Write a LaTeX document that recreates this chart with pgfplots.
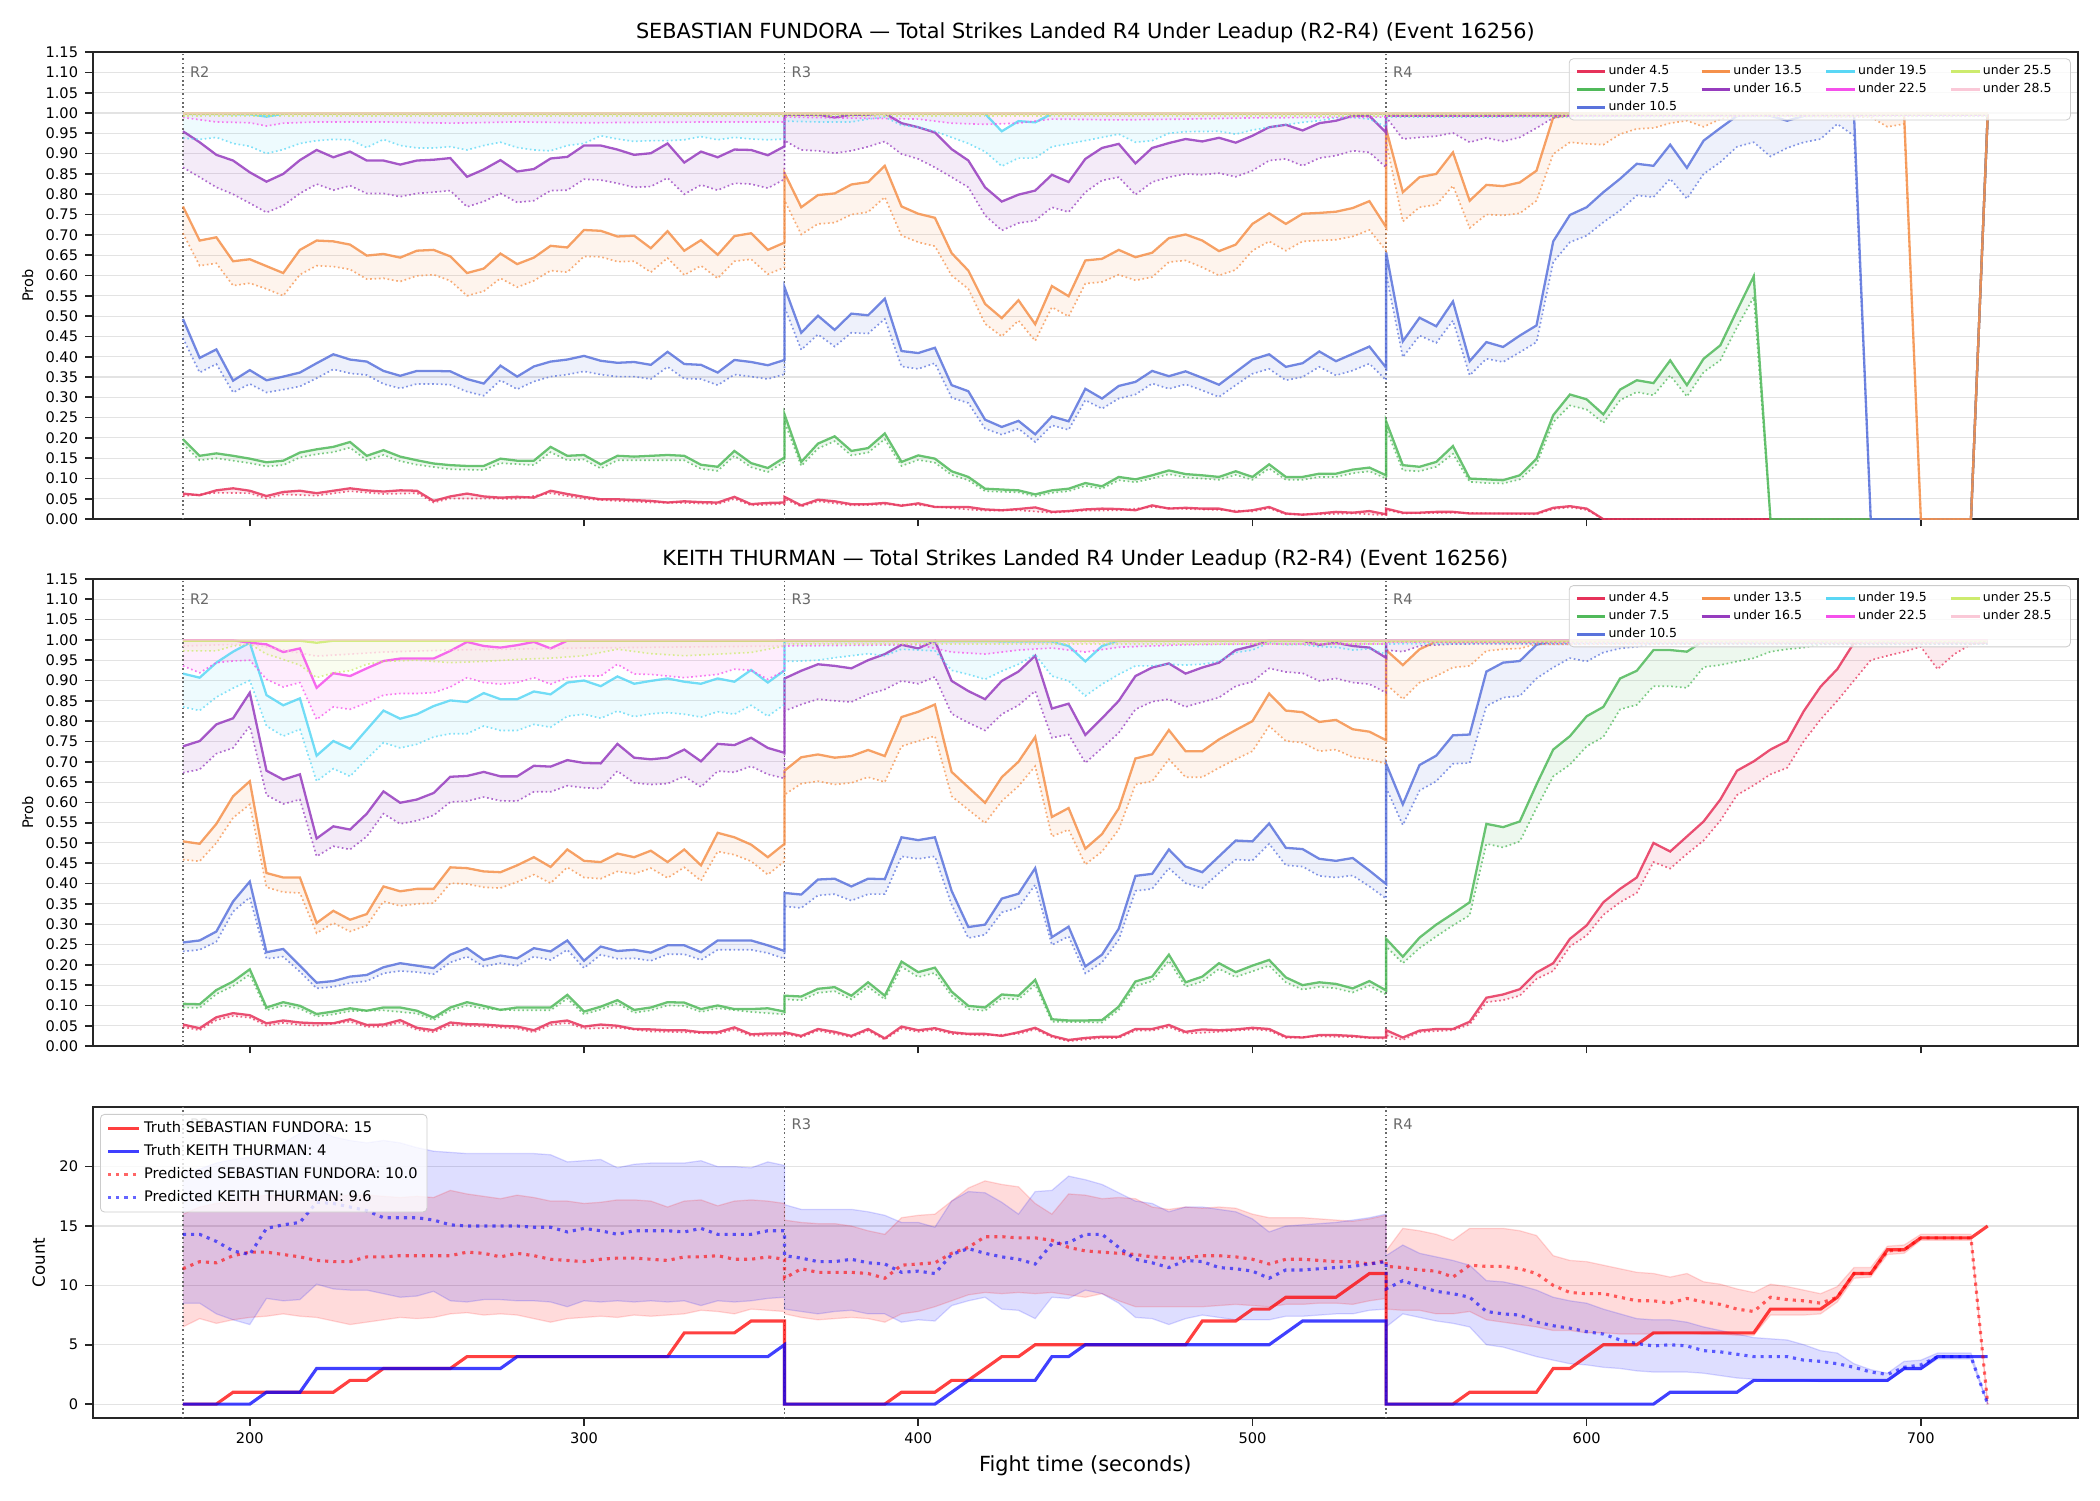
\documentclass[border=0pt]{standalone}
\usepackage{fontspec}
\setmainfont{DejaVu Sans}
\usepackage{pgfplots}
\pgfplotsset{compat=1.18}
\usepgfplotslibrary{fillbetween}
\usepackage{pgfplotstable}

\definecolor{c4}{RGB}{230,50,90}
\definecolor{c7}{RGB}{80,185,90}
\definecolor{c10}{RGB}{90,115,220}
\definecolor{c13}{RGB}{245,145,75}
\definecolor{c16}{RGB}{150,60,190}
\definecolor{c19}{RGB}{90,215,245}
\definecolor{c22}{RGB}{245,80,235}
\definecolor{c25}{RGB}{205,235,110}
\definecolor{c28}{RGB}{250,200,215}
\definecolor{cR}{RGB}{255,0,0}
\definecolor{cB}{RGB}{0,0,255}
\definecolor{axgray}{RGB}{38,38,38}
\definecolor{rgray}{RGB}{105,105,105}

\pgfplotstableread{
t PR PB RU RL BU BL
180 11.4 14.3 16.0 6.5 19.5 8.5
185 12.0 14.3 16.6 7.2 19.8 8.5
190 11.9 13.7 16.9 6.8 20.3 7.6
195 12.5 12.9 17.1 7.1 20.6 7.1
200 12.8 12.6 17.4 7.3 20.8 6.7
205 12.8 14.8 17.6 7.4 21.5 8.9
210 12.6 15.1 17.5 7.6 22.0 8.7
215 12.4 15.3 17.4 7.4 22.8 8.8
220 12.1 17.0 17.4 7.3 23.2 10.1
225 12.0 16.9 17.5 7.0 22.5 9.7
230 12.0 16.6 17.6 6.7 22.2 9.6
235 12.4 16.3 17.6 6.9 22.0 9.6
240 12.4 15.7 17.5 7.1 22.2 9.3
245 12.5 15.7 17.4 7.3 22.0 9.0
250 12.5 15.7 17.5 7.2 21.6 9.1
255 12.5 15.5 17.4 7.3 21.3 9.5
260 12.5 15.1 18.0 7.6 21.2 8.7
265 12.8 15.0 17.7 7.7 21.1 8.6
270 12.7 15.0 17.5 7.5 21.1 8.8
275 12.4 15.0 17.3 7.6 21.1 8.8
280 12.7 15.0 17.6 7.5 21.1 8.7
285 12.5 14.9 17.4 7.2 21.1 8.7
290 12.2 14.9 17.1 6.9 21.0 8.6
295 12.1 14.5 17.1 7.2 20.4 8.2
300 12.0 14.8 16.9 7.3 20.5 8.7
305 12.2 14.6 17.0 7.4 20.6 8.6
310 12.3 14.3 17.2 7.3 19.9 8.7
315 12.3 14.6 17.2 7.5 20.2 8.6
320 12.2 14.6 17.1 7.4 20.3 8.7
325 12.1 14.6 16.6 7.5 20.3 8.6
330 12.4 14.5 17.1 7.6 20.3 8.7
335 12.4 14.8 17.2 7.9 20.5 8.3
340 12.5 14.3 16.7 7.8 20.0 8.7
345 12.2 14.3 17.1 7.6 20.0 8.6
350 12.2 14.3 17.2 8.0 19.9 8.7
355 12.4 14.6 17.1 7.9 20.4 8.9
360 12.2 14.6 16.9 7.8 20.1 9.0
360 10.6 12.5 15.5 7.6 16.8 8.0
365 11.4 12.3 15.3 7.3 16.4 7.8
370 11.1 12.0 15.2 7.1 16.4 7.6
375 11.1 12.0 15.2 7.2 16.4 7.8
380 11.1 12.2 15.0 7.3 16.4 7.9
385 11.0 11.9 14.6 7.2 16.2 7.6
390 10.6 11.8 14.3 6.9 15.9 7.6
395 11.7 11.1 15.7 7.6 15.3 6.9
400 11.8 11.2 15.9 7.8 15.3 7.1
405 11.9 11.0 16.0 8.2 14.9 7.0
410 12.7 12.6 17.1 8.7 17.1 8.3
415 13.2 13.1 18.2 9.2 17.9 8.7
420 14.1 12.7 18.8 9.4 17.8 9.0
425 14.1 12.4 18.5 9.3 17.0 8.0
430 14.0 12.2 18.3 9.4 16.0 7.9
435 14.0 11.8 16.9 9.3 17.9 7.2
440 13.8 13.5 16.0 9.4 18.0 9.0
445 13.2 13.6 17.7 9.2 19.2 8.9
450 12.9 14.3 17.6 9.0 18.9 9.6
455 12.8 14.3 17.3 9.3 18.5 9.3
460 12.7 13.2 17.4 8.7 17.8 8.5
465 12.6 12.2 17.3 8.2 17.1 7.3
470 12.4 11.9 16.6 8.2 16.9 7.2
475 12.3 11.5 16.4 8.2 16.2 6.7
480 12.3 12.1 16.6 8.2 16.6 7.2
485 12.5 12.0 16.5 8.2 16.6 7.5
490 12.5 11.5 16.6 8.3 16.4 7.3
495 12.4 11.4 16.5 8.4 16.2 7.1
500 12.2 11.2 16.0 8.3 15.6 7.1
505 11.8 10.6 15.7 8.2 14.5 7.1
510 12.2 11.3 15.7 8.4 15.0 7.4
515 12.2 11.3 15.7 8.4 15.1 7.4
520 12.1 11.4 15.6 8.5 15.2 7.5
525 12.0 11.5 15.5 8.5 15.3 7.6
530 12.0 11.6 15.4 8.4 15.5 7.6
535 11.8 11.8 15.6 8.7 15.7 7.9
540 12.1 12.0 15.9 8.9 16.0 8.0
540 11.6 9.7 12.9 8.0 12.5 6.5
545 11.5 10.4 14.8 7.9 13.4 7.6
550 11.3 9.9 14.6 7.9 12.7 7.3
555 11.2 9.5 14.3 7.6 12.4 7.0
560 10.7 9.3 13.8 7.6 12.1 6.8
565 11.7 9.0 14.8 7.8 11.7 6.5
570 11.6 7.8 14.8 7.1 10.4 5.0
575 11.6 7.6 14.8 6.9 10.3 4.8
580 11.4 7.5 14.6 6.7 10.0 4.4
585 11.0 6.9 14.2 6.5 9.6 4.0
590 10.0 6.6 12.5 6.2 9.0 3.7
595 9.4 6.4 12.1 6.2 8.7 3.4
600 9.3 6.1 12.0 6.0 8.5 3.3
605 9.3 5.9 11.7 6.0 8.0 3.1
610 9.0 5.4 11.4 5.9 7.6 3.0
615 8.7 5.1 11.1 5.9 7.2 2.8
620 8.7 4.9 11.0 5.9 7.1 2.7
625 8.5 5.0 10.7 6.0 7.1 2.7
630 8.9 4.9 11.0 6.0 6.9 2.7
635 8.6 4.5 10.3 5.9 6.5 2.6
640 8.4 4.4 10.1 5.9 6.2 2.4
645 8.0 4.2 9.7 5.8 5.9 2.2
650 7.8 4.0 9.4 5.8 5.6 2.1
655 9.0 4.0 10.1 7.5 5.5 2.0
660 8.8 4.0 9.9 7.5 5.4 2.0
665 8.7 3.7 9.6 7.5 5.0 2.0
670 8.5 3.6 9.3 7.6 4.5 1.9
675 9.0 3.4 9.9 8.6 4.3 1.9
680 11.0 3.1 11.5 10.6 3.4 1.9
685 11.0 2.7 11.5 10.7 2.9 1.9
690 12.9 2.5 13.3 12.6 2.6 1.9
695 13.0 3.1 13.4 12.7 3.6 2.9
700 14.0 3.3 14.3 13.8 3.7 2.9
705 14.0 4.0 14.3 13.8 4.3 3.8
710 14.0 4.0 14.3 13.8 4.3 3.8
715 14.0 4.0 14.3 13.8 4.3 3.8
720 0 0 0 0 0 0
}\cnt

\pgfplotsset{
  sl/.style={#1, line width=1.1pt, opacity=0.85, forget plot},
  dl/.style={#1, line width=0.8pt, opacity=0.75, dash pattern=on 0.8pt off 1.3pt, forget plot},
  fb/.style={fill=#1, fill opacity=0.1, draw=none, forget plot},
  rline/.style={forget plot, rgray, line width=0.6pt, dash pattern=on 0.8pt off 1.3pt},
  base/.style={scale only axis, width=952.9pt, xmin=153, xmax=747,
    xtick={200,300,400,500,600,700}, tick align=outside, xtick pos=bottom, ytick pos=left,
    major tick length=3.5pt, every tick/.style={axgray, line width=0.8pt},
    axis line style={axgray, line width=1pt},
    ymajorgrids, grid style={gray!22, line width=0.5pt},
    tick label style={font=\fontsize{7}{8}\selectfont},
    /pgf/number format/assume math mode=true,
    title style={font=\fontsize{10}{12}\selectfont, at={(0.5,1)}, anchor=base, yshift=0.3pt}},
  prob/.style={base, height=224.2pt, ymin=0, ymax=1.15,
    ytick={0,0.05,0.1,0.15,0.2,0.25,0.3,0.35,0.4,0.45,0.5,0.55,0.6,0.65,0.7,0.75,0.8,0.85,0.9,0.95,1,1.05,1.1,1.15},
    yticklabel style={/pgf/number format/.cd, fixed, fixed zerofill, precision=2},
    xticklabels={},
    ylabel={Prob}, ylabel style={font=\fontsize{7}{8}\selectfont, at={(axis description cs:-0.0327,0.5)}, anchor=center},
    legend style={at={(1,1)}, anchor=north east, xshift=-3.4pt, yshift=-3pt,
      font=\fontsize{6}{7}\selectfont, draw=gray!40, fill=white, fill opacity=0.8, text opacity=1,
      rounded corners=2pt, /tikz/every even column/.append style={column sep=5pt},
      nodes={text width=38pt, inner sep=1pt}, row sep=0.6pt},
    legend columns=4, legend cell align=left,
    legend image code/.code={\draw[#1, opacity=1, line width=1.3pt] (0pt,0pt) -- (13.6pt,0pt);}},
}

\newcommand{\problegend}{%
  \addlegendimage{c4}\addlegendentry{under 4.5}
  \addlegendimage{c13}\addlegendentry{under 13.5}
  \addlegendimage{c19}\addlegendentry{under 19.5}
  \addlegendimage{c25}\addlegendentry{under 25.5}
  \addlegendimage{c7}\addlegendentry{under 7.5}
  \addlegendimage{c16}\addlegendentry{under 16.5}
  \addlegendimage{c22}\addlegendentry{under 22.5}
  \addlegendimage{c28}\addlegendentry{under 28.5}
  \addlegendimage{c10}\addlegendentry{under 10.5}
}

\begin{document}
\begin{tikzpicture}

% ================= TOP PANEL =================
\begin{axis}[prob, at={(44.5pt,-25pt)}, anchor=north west,
  title={SEBASTIAN FUNDORA — Total Strikes Landed R4 Under Leadup (R2-R4) (Event 16256)}]
\addplot[rline] coordinates {(180,0)(180,1.15)};
\addplot[rline] coordinates {(360,0)(360,1.15)};
\addplot[rline] coordinates {(540,0)(540,1.15)};
\node[anchor=west, text=rgray, font=\fontsize{7}{8}\selectfont, inner sep=0pt] at (axis cs:182,1.10) {R2};
\node[anchor=west, text=rgray, font=\fontsize{7}{8}\selectfont, inner sep=0pt] at (axis cs:362,1.10) {R3};
\node[anchor=west, text=rgray, font=\fontsize{7}{8}\selectfont, inner sep=0pt] at (axis cs:542,1.10) {R4};

% under 4.5
\addplot[sl=c4, name path=T4s] coordinates {(180,0.063)(185,0.059)(190,0.071)(195,0.076)(200,0.070)(205,0.057)(210,0.067)(215,0.070)(220,0.064)(225,0.070)(230,0.076)(235,0.071)(240,0.068)(245,0.071)(250,0.070)(255,0.045)(260,0.056)(265,0.063)(270,0.056)(275,0.053)(280,0.055)(285,0.053)(290,0.070)(295,0.062)(300,0.055)(305,0.049)(310,0.049)(315,0.047)(320,0.045)(325,0.041)(330,0.044)(335,0.042)(340,0.041)(345,0.055)(350,0.037)(355,0.040)(360,0.041)
(360,0.055)(365,0.034)(370,0.048)(375,0.044)(380,0.037)(385,0.037)(390,0.040)(395,0.033)(400,0.039)(405,0.030)(410,0.030)(415,0.030)(420,0.024)(425,0.022)(430,0.025)(435,0.029)(440,0.018)(445,0.020)(450,0.024)(455,0.026)(460,0.025)(465,0.022)(470,0.034)(475,0.026)(480,0.028)(485,0.026)(490,0.026)(495,0.018)(500,0.022)(505,0.030)(510,0.014)(515,0.011)(520,0.014)(525,0.018)(530,0.016)(535,0.020)(540,0.012)
(540,0.026)(545,0.016)(550,0.016)(555,0.018)(560,0.018)(565,0.014)(570,0.014)(575,0.014)(580,0.014)(585,0.014)(590,0.028)(595,0.032)(600,0.026)(605,0)(715,0)(720,0.996)};
\addplot[dl=c4, name path=T4d] coordinates {(180,0.057)(190,0.065)(200,0.064)(205,0.051)(210,0.061)(220,0.058)(230,0.069)(240,0.062)(250,0.064)(255,0.041)(260,0.051)(270,0.051)(280,0.050)(290,0.064)(300,0.050)(310,0.045)(320,0.041)(330,0.040)(340,0.037)(345,0.050)(350,0.034)(360,0.037)
(360,0.050)(365,0.031)(370,0.044)(380,0.034)(390,0.036)(400,0.035)(410,0.027)(420,0.021)(430,0.022)(440,0.016)(450,0.021)(460,0.022)(470,0.030)(480,0.025)(490,0.023)(500,0.019)(505,0.027)(510,0.012)(520,0.012)(530,0.014)(540,0.010)
(540,0.023)(545,0.014)(560,0.016)(585,0.012)(590,0.025)(595,0.029)(600,0.023)(605,0)(715,0)(720,0.990)};
\addplot[fb=c4] fill between[of=T4s and T4d];

% under 7.5
\addplot[sl=c7, name path=T7s] coordinates {(180,0.197)(185,0.156)(190,0.162)(195,0.156)(200,0.149)(205,0.140)(210,0.144)(215,0.164)(220,0.172)(225,0.178)(230,0.190)(235,0.156)(240,0.170)(245,0.154)(250,0.145)(255,0.137)(260,0.133)(265,0.131)(270,0.131)(275,0.149)(280,0.144)(285,0.144)(290,0.178)(295,0.156)(300,0.158)(305,0.135)(310,0.156)(315,0.154)(320,0.156)(325,0.158)(330,0.156)(335,0.134)(340,0.129)(345,0.168)(350,0.138)(355,0.126)(360,0.152)
(360,0.258)(365,0.141)(370,0.186)(375,0.204)(380,0.168)(385,0.175)(390,0.211)(395,0.141)(400,0.157)(405,0.149)(410,0.118)(415,0.104)(420,0.075)(425,0.073)(430,0.071)(435,0.061)(440,0.071)(445,0.075)(450,0.089)(455,0.081)(460,0.104)(465,0.098)(470,0.108)(475,0.120)(480,0.111)(485,0.108)(490,0.104)(495,0.118)(500,0.104)(505,0.135)(510,0.104)(515,0.104)(520,0.112)(525,0.112)(530,0.122)(535,0.127)(540,0.108)
(540,0.241)(545,0.133)(550,0.129)(555,0.141)(560,0.180)(565,0.100)(570,0.098)(575,0.096)(580,0.108)(585,0.149)(590,0.256)(595,0.307)(600,0.295)(605,0.258)(610,0.319)(615,0.342)(620,0.335)(625,0.391)(630,0.330)(635,0.395)(640,0.428)(645,0.514)(650,0.598)(655,0)(715,0)(720,0.996)};
\addplot[dl=c7, name path=T7d] coordinates {(180,0.185)(185,0.145)(190,0.150)(200,0.138)(205,0.130)(210,0.133)(215,0.152)(220,0.160)(225,0.165)(230,0.176)(235,0.145)(240,0.158)(245,0.143)(250,0.134)(260,0.123)(270,0.121)(275,0.138)(285,0.133)(290,0.165)(295,0.145)(300,0.147)(305,0.125)(310,0.145)(320,0.145)(330,0.145)(335,0.124)(340,0.119)(345,0.156)(350,0.128)(355,0.116)(360,0.141)
(360,0.240)(365,0.131)(370,0.174)(375,0.192)(380,0.157)(385,0.164)(390,0.197)(395,0.131)(400,0.146)(405,0.139)(410,0.109)(415,0.096)(420,0.069)(430,0.066)(435,0.056)(440,0.065)(445,0.069)(450,0.082)(455,0.075)(460,0.096)(465,0.091)(470,0.100)(475,0.111)(480,0.103)(490,0.097)(495,0.109)(500,0.097)(505,0.125)(510,0.097)(515,0.097)(520,0.104)(525,0.104)(530,0.113)(535,0.118)(540,0.100)
(540,0.223)(545,0.120)(550,0.118)(555,0.129)(560,0.161)(565,0.092)(570,0.089)(575,0.088)(580,0.098)(585,0.135)(590,0.239)(595,0.280)(600,0.270)(605,0.237)(610,0.293)(615,0.313)(620,0.305)(625,0.354)(630,0.302)(635,0.362)(640,0.391)(645,0.473)(650,0.547)(655,0)(715,0)(720,0.990)};
\addplot[fb=c7] fill between[of=T7s and T7d];

% under 10.5
\addplot[sl=c10, name path=T10s] coordinates {(180,0.493)(185,0.397)(190,0.418)(195,0.341)(200,0.367)(205,0.342)(210,0.351)(215,0.361)(220,0.384)(225,0.406)(230,0.393)(235,0.388)(240,0.365)(245,0.353)(250,0.365)(255,0.365)(260,0.364)(265,0.345)(270,0.334)(275,0.378)(280,0.351)(285,0.376)(290,0.388)(295,0.393)(300,0.402)(305,0.390)(310,0.385)(315,0.387)(320,0.380)(325,0.412)(330,0.382)(335,0.380)(340,0.361)(345,0.392)(350,0.387)(355,0.379)(360,0.392)
(360,0.571)(365,0.459)(370,0.501)(375,0.466)(380,0.506)(385,0.502)(390,0.543)(395,0.414)(400,0.409)(405,0.422)(410,0.330)(415,0.315)(420,0.245)(425,0.227)(430,0.242)(435,0.209)(440,0.253)(445,0.241)(450,0.321)(455,0.297)(460,0.328)(465,0.338)(470,0.365)(475,0.352)(480,0.364)(485,0.348)(490,0.331)(495,0.362)(500,0.393)(505,0.406)(510,0.375)(515,0.384)(520,0.413)(525,0.389)(530,0.407)(535,0.425)(540,0.373)
(540,0.657)(545,0.438)(550,0.496)(555,0.475)(560,0.536)(565,0.389)(570,0.436)(575,0.424)(580,0.452)(585,0.477)(590,0.684)(595,0.749)(600,0.768)(605,0.805)(610,0.838)(615,0.875)(620,0.870)(625,0.922)(630,0.865)(635,0.932)(640,0.963)(645,0.993)(650,0.996)(655,0.993)(660,0.981)(665,0.993)(670,0.996)(675,0.996)(680,0.996)(685,0)(715,0)(720,0.996)};
\addplot[dl=c10, name path=T10d] coordinates {(180,0.446)(185,0.361)(190,0.382)(195,0.312)(200,0.333)(205,0.312)(210,0.319)(215,0.327)(220,0.347)(225,0.369)(230,0.359)(235,0.355)(240,0.333)(245,0.322)(250,0.333)(255,0.333)(260,0.331)(265,0.314)(270,0.304)(275,0.342)(280,0.320)(285,0.339)(290,0.351)(295,0.356)(300,0.364)(305,0.356)(310,0.351)(315,0.351)(320,0.345)(325,0.375)(330,0.346)(335,0.345)(340,0.330)(345,0.356)(350,0.351)(355,0.345)(360,0.357)
(360,0.522)(365,0.417)(370,0.455)(375,0.425)(380,0.459)(385,0.457)(390,0.493)(395,0.376)(400,0.370)(405,0.384)(410,0.299)(415,0.286)(420,0.223)(425,0.208)(430,0.223)(435,0.190)(440,0.231)(445,0.220)(450,0.293)(455,0.272)(460,0.297)(465,0.307)(470,0.334)(475,0.321)(480,0.332)(485,0.317)(490,0.301)(495,0.330)(500,0.358)(505,0.370)(510,0.342)(515,0.350)(520,0.375)(525,0.354)(530,0.366)(535,0.383)(540,0.342)
(540,0.604)(545,0.399)(550,0.452)(555,0.434)(560,0.489)(565,0.354)(570,0.395)(575,0.387)(580,0.411)(585,0.436)(590,0.633)(595,0.682)(600,0.698)(605,0.731)(610,0.760)(615,0.797)(620,0.793)(625,0.838)(630,0.789)(635,0.850)(640,0.879)(645,0.917)(650,0.928)(655,0.893)(660,0.914)(665,0.928)(670,0.936)(675,0.973)(680,0.944)(685,0)(715,0)(720,0.990)};
\addplot[fb=c10] fill between[of=T10s and T10d];

% under 13.5
\addplot[sl=c13, name path=T13s] coordinates {(180,0.770)(185,0.686)(190,0.694)(195,0.635)(200,0.640)(205,0.623)(210,0.606)(215,0.663)(220,0.686)(225,0.684)(230,0.676)(235,0.649)(240,0.653)(245,0.644)(250,0.661)(255,0.663)(260,0.647)(265,0.606)(270,0.617)(275,0.654)(280,0.628)(285,0.644)(290,0.673)(295,0.669)(300,0.712)(305,0.710)(310,0.696)(315,0.698)(320,0.667)(325,0.709)(330,0.661)(335,0.687)(340,0.651)(345,0.697)(350,0.704)(355,0.663)(360,0.681)
(360,0.852)(365,0.768)(370,0.798)(375,0.802)(380,0.824)(385,0.830)(390,0.870)(395,0.770)(400,0.752)(405,0.742)(410,0.655)(415,0.612)(420,0.530)(425,0.495)(430,0.539)(435,0.480)(440,0.574)(445,0.549)(450,0.637)(455,0.641)(460,0.663)(465,0.645)(470,0.656)(475,0.692)(480,0.701)(485,0.686)(490,0.660)(495,0.676)(500,0.727)(505,0.753)(510,0.727)(515,0.752)(520,0.754)(525,0.757)(530,0.766)(535,0.783)(540,0.719)
(540,0.961)(545,0.805)(550,0.842)(555,0.850)(560,0.903)(565,0.784)(570,0.823)(575,0.820)(580,0.829)(585,0.858)(590,0.989)(595,0.996)(695,0.996)(700,0)(715,0)(720,0.996)};
\addplot[dl=c13, name path=T13d] coordinates {(180,0.704)(185,0.624)(190,0.630)(195,0.575)(200,0.581)(205,0.567)(210,0.550)(215,0.602)(220,0.624)(225,0.622)(230,0.615)(235,0.591)(240,0.593)(245,0.585)(250,0.599)(255,0.602)(260,0.587)(265,0.550)(270,0.561)(275,0.593)(280,0.571)(285,0.587)(290,0.612)(295,0.608)(300,0.647)(305,0.646)(310,0.634)(315,0.635)(320,0.608)(325,0.643)(330,0.601)(335,0.624)(340,0.593)(345,0.635)(350,0.640)(355,0.603)(360,0.620)
(360,0.785)(365,0.701)(370,0.727)(375,0.730)(380,0.750)(385,0.756)(390,0.793)(395,0.698)(400,0.682)(405,0.672)(410,0.600)(415,0.567)(420,0.481)(425,0.450)(430,0.489)(435,0.439)(440,0.522)(445,0.499)(450,0.580)(455,0.584)(460,0.602)(465,0.588)(470,0.596)(475,0.633)(480,0.637)(485,0.620)(490,0.600)(495,0.614)(500,0.661)(505,0.684)(510,0.661)(515,0.684)(520,0.686)(525,0.688)(530,0.696)(535,0.712)(540,0.661)
(540,0.930)(545,0.733)(550,0.768)(555,0.774)(560,0.821)(565,0.717)(570,0.750)(575,0.748)(580,0.753)(585,0.784)(590,0.899)(595,0.928)(600,0.924)(605,0.922)(610,0.948)(615,0.961)(620,0.963)(625,0.975)(630,0.981)(635,0.966)(640,0.985)(645,0.993)(685,0.990)(690,0.966)(695,0.973)(700,0)(715,0)(720,0.990)};
\addplot[fb=c13] fill between[of=T13s and T13d];

% under 16.5
\addplot[sl=c16, name path=T16s] coordinates {(180,0.955)(185,0.928)(190,0.897)(195,0.883)(200,0.854)(205,0.831)(210,0.850)(215,0.884)(220,0.909)(225,0.891)(230,0.905)(235,0.883)(240,0.883)(245,0.873)(250,0.883)(255,0.885)(260,0.889)(265,0.843)(270,0.861)(275,0.884)(280,0.856)(285,0.862)(290,0.888)(295,0.892)(300,0.920)(305,0.920)(310,0.910)(315,0.897)(320,0.901)(325,0.925)(330,0.878)(335,0.905)(340,0.891)(345,0.910)(350,0.909)(355,0.896)(360,0.918)
(360,0.996)(365,0.996)(370,0.996)(375,0.989)(380,0.996)(385,0.996)(390,0.999)(395,0.975)(400,0.965)(405,0.952)(410,0.911)(415,0.883)(420,0.817)(425,0.782)(430,0.799)(435,0.809)(440,0.848)(445,0.830)(450,0.887)(455,0.914)(460,0.924)(465,0.876)(470,0.914)(475,0.926)(480,0.936)(485,0.930)(490,0.939)(495,0.927)(500,0.944)(505,0.965)(510,0.971)(515,0.957)(520,0.975)(525,0.981)(530,0.993)(535,0.993)(540,0.952)
(540,0.993)(720,0.996)};
\addplot[dl=c16, name path=T16d] coordinates {(180,0.866)(185,0.842)(190,0.817)(195,0.800)(200,0.778)(205,0.755)(210,0.772)(215,0.802)(220,0.825)(225,0.810)(230,0.821)(235,0.802)(240,0.802)(245,0.794)(250,0.802)(255,0.805)(260,0.809)(265,0.769)(270,0.782)(275,0.802)(280,0.780)(285,0.784)(290,0.809)(295,0.810)(300,0.837)(305,0.835)(310,0.827)(315,0.817)(320,0.819)(325,0.840)(330,0.800)(335,0.823)(340,0.810)(345,0.827)(350,0.825)(355,0.815)(360,0.837)
(360,0.932)(365,0.909)(370,0.907)(375,0.901)(380,0.907)(385,0.917)(390,0.930)(395,0.899)(400,0.887)(405,0.866)(410,0.842)(415,0.817)(420,0.748)(425,0.711)(430,0.729)(435,0.735)(440,0.768)(445,0.756)(450,0.805)(455,0.834)(460,0.842)(465,0.799)(470,0.830)(475,0.842)(480,0.850)(485,0.848)(490,0.852)(495,0.843)(500,0.858)(505,0.883)(510,0.887)(515,0.870)(520,0.889)(525,0.895)(530,0.907)(535,0.903)(540,0.866)
(540,0.990)(545,0.936)(550,0.940)(555,0.943)(560,0.951)(565,0.928)(570,0.939)(575,0.930)(580,0.940)(585,0.963)(590,0.988)(595,0.993)(720,0.993)};
\addplot[fb=c16] fill between[of=T16s and T16d];

% under 19.5
\addplot[sl=c19, name path=T19s] coordinates {(180,0.998)(200,0.997)(205,0.991)(210,0.998)(420,0.998)(425,0.955)(430,0.980)(435,0.977)(440,0.998)(720,0.998)};
\addplot[dl=c19, name path=T19d] coordinates {(180,0.938)(185,0.935)(190,0.940)(195,0.925)(200,0.918)(205,0.900)(210,0.910)(215,0.925)(220,0.932)(225,0.935)(230,0.934)(235,0.915)(240,0.935)(245,0.920)(250,0.914)(255,0.914)(260,0.917)(265,0.909)(270,0.920)(275,0.928)(280,0.915)(285,0.909)(290,0.907)(295,0.920)(300,0.925)(305,0.944)(310,0.936)(315,0.930)(320,0.932)(325,0.932)(330,0.934)(335,0.942)(340,0.934)(345,0.940)(350,0.936)(355,0.934)(360,0.936)
(360,0.980)(370,0.978)(380,0.978)(385,0.985)(390,0.990)(395,0.970)(400,0.965)(405,0.955)(410,0.940)(415,0.925)(420,0.905)(425,0.869)(430,0.889)(435,0.889)(440,0.917)(445,0.924)(450,0.932)(455,0.940)(460,0.948)(465,0.928)(470,0.932)(475,0.950)(480,0.954)(490,0.955)(495,0.948)(500,0.958)(505,0.965)(510,0.971)(515,0.977)(520,0.981)(525,0.988)(530,0.989)(535,0.985)(540,0.966)
(540,0.990)(720,0.992)};
\addplot[fb=c19] fill between[of=T19s and T19d];

% under 22.5
\addplot[sl=c22, name path=T22s] coordinates {(180,0.999)(720,0.999)};
\addplot[dl=c22, name path=T22d] coordinates {(180,0.989)(190,0.978)(200,0.976)(205,0.968)(210,0.975)(220,0.978)(240,0.978)(260,0.975)(280,0.978)(300,0.976)(320,0.977)(340,0.978)(360,0.978)(360,0.990)(400,0.985)(410,0.975)(420,0.972)(430,0.975)(440,0.985)(460,0.983)(480,0.985)(500,0.988)(540,0.990)(540,0.993)(720,0.993)};
\addplot[fb=c22] fill between[of=T22s and T22d];

% under 25.5 / 28.5
\addplot[sl=c25, name path=T25s] coordinates {(180,0.999)(720,0.999)};
\addplot[dl=c25, name path=T25d] coordinates {(180,0.992)(720,0.992)};
\addplot[fb=c25] fill between[of=T25s and T25d];
\addplot[sl=c28, opacity=0.55, name path=T28s] coordinates {(180,1.0)(720,1.0)};
\addplot[dl=c28, name path=T28d] coordinates {(180,0.996)(720,0.996)};
\addplot[fb=c28] fill between[of=T28s and T28d];

\problegend
\end{axis}

% ================= MIDDLE PANEL =================
\begin{axis}[prob, at={(44.5pt,-277.9pt)}, anchor=north west,
  title={KEITH THURMAN — Total Strikes Landed R4 Under Leadup (R2-R4) (Event 16256)}]
\addplot[rline] coordinates {(180,0)(180,1.15)};
\addplot[rline] coordinates {(360,0)(360,1.15)};
\addplot[rline] coordinates {(540,0)(540,1.15)};
\node[anchor=west, text=rgray, font=\fontsize{7}{8}\selectfont, inner sep=0pt] at (axis cs:182,1.10) {R2};
\node[anchor=west, text=rgray, font=\fontsize{7}{8}\selectfont, inner sep=0pt] at (axis cs:362,1.10) {R3};
\node[anchor=west, text=rgray, font=\fontsize{7}{8}\selectfont, inner sep=0pt] at (axis cs:542,1.10) {R4};

% under 4.5
\addplot[sl=c4, name path=M4s] coordinates {(180,0.053)(185,0.044)(190,0.071)(195,0.081)(200,0.076)(205,0.056)(210,0.063)(215,0.058)(220,0.056)(225,0.056)(230,0.066)(235,0.052)(240,0.053)(245,0.064)(250,0.045)(255,0.039)(260,0.058)(265,0.054)(270,0.053)(275,0.050)(280,0.048)(285,0.039)(290,0.058)(295,0.063)(300,0.048)(305,0.053)(310,0.050)(315,0.042)(320,0.041)(325,0.039)(330,0.039)(335,0.034)(340,0.034)(345,0.046)(350,0.029)(355,0.031)(360,0.031)
(360,0.034)(365,0.025)(370,0.042)(375,0.035)(380,0.025)(385,0.042)(390,0.019)(395,0.048)(400,0.039)(405,0.044)(410,0.034)(415,0.030)(420,0.030)(425,0.025)(430,0.034)(435,0.045)(440,0.025)(445,0.015)(450,0.020)(455,0.023)(460,0.023)(465,0.042)(470,0.042)(475,0.052)(480,0.035)(485,0.041)(490,0.039)(495,0.041)(500,0.045)(505,0.042)(510,0.023)(515,0.021)(520,0.027)(525,0.027)(530,0.025)(535,0.021)(540,0.021)
(540,0.039)(545,0.021)(550,0.038)(555,0.042)(560,0.042)(565,0.060)(570,0.119)(575,0.127)(580,0.140)(585,0.181)(590,0.204)(595,0.264)(600,0.297)(605,0.354)(610,0.387)(615,0.415)(620,0.500)(625,0.479)(630,0.516)(635,0.553)(640,0.607)(645,0.678)(650,0.701)(655,0.730)(660,0.751)(665,0.825)(670,0.885)(675,0.928)(680,0.993)(685,0.998)(720,0.998)};
\addplot[dl=c4, name path=M4d] coordinates {(180,0.047)(185,0.039)(190,0.064)(195,0.074)(200,0.070)(205,0.050)(210,0.057)(215,0.052)(220,0.050)(230,0.060)(235,0.047)(240,0.048)(245,0.058)(250,0.040)(255,0.034)(260,0.052)(270,0.048)(280,0.043)(285,0.034)(290,0.052)(295,0.057)(300,0.043)(310,0.045)(320,0.036)(330,0.034)(340,0.030)(345,0.041)(350,0.025)(360,0.027)
(360,0.030)(365,0.022)(370,0.038)(380,0.022)(385,0.038)(390,0.016)(395,0.043)(400,0.035)(405,0.040)(410,0.030)(420,0.026)(430,0.030)(435,0.041)(440,0.022)(445,0.012)(455,0.020)(460,0.020)(465,0.038)(470,0.038)(475,0.047)(480,0.031)(490,0.035)(500,0.041)(505,0.038)(510,0.020)(520,0.024)(530,0.022)(540,0.018)
(540,0.027)(545,0.015)(550,0.034)(555,0.037)(560,0.039)(565,0.053)(570,0.108)(575,0.113)(580,0.124)(585,0.165)(590,0.185)(595,0.245)(600,0.272)(605,0.323)(610,0.354)(615,0.377)(620,0.453)(625,0.437)(630,0.473)(635,0.506)(640,0.555)(645,0.618)(650,0.642)(655,0.669)(660,0.685)(665,0.751)(670,0.804)(675,0.850)(680,0.900)(685,0.950)(690,0.961)(695,0.971)(700,0.983)(705,0.928)(710,0.965)(715,0.989)(720,0.993)};
\addplot[fb=c4] fill between[of=M4s and M4d];

% under 7.5
\addplot[sl=c7, name path=M7s] coordinates {(180,0.104)(185,0.103)(190,0.138)(195,0.159)(200,0.189)(205,0.095)(210,0.108)(215,0.099)(220,0.079)(225,0.085)(230,0.093)(235,0.087)(240,0.095)(245,0.095)(250,0.087)(255,0.070)(260,0.095)(265,0.108)(270,0.099)(275,0.089)(280,0.095)(285,0.095)(290,0.095)(295,0.126)(300,0.085)(305,0.097)(310,0.113)(315,0.089)(320,0.095)(325,0.108)(330,0.107)(335,0.091)(340,0.100)(345,0.091)(350,0.091)(355,0.093)(360,0.085)
(360,0.124)(365,0.122)(370,0.141)(375,0.145)(380,0.124)(385,0.157)(390,0.124)(395,0.208)(400,0.182)(405,0.193)(410,0.134)(415,0.099)(420,0.095)(425,0.127)(430,0.124)(435,0.163)(440,0.066)(445,0.063)(450,0.063)(455,0.064)(460,0.097)(465,0.159)(470,0.171)(475,0.225)(480,0.157)(485,0.171)(490,0.204)(495,0.182)(500,0.198)(505,0.212)(510,0.169)(515,0.150)(520,0.157)(525,0.153)(530,0.142)(535,0.160)(540,0.137)
(540,0.264)(545,0.220)(550,0.267)(555,0.299)(560,0.326)(565,0.354)(570,0.547)(575,0.539)(580,0.553)(585,0.644)(590,0.730)(595,0.763)(600,0.812)(605,0.835)(610,0.905)(615,0.924)(620,0.975)(625,0.975)(630,0.971)(635,0.998)(720,0.998)};
\addplot[dl=c7, name path=M7d] coordinates {(180,0.095)(185,0.094)(190,0.128)(195,0.148)(200,0.176)(205,0.088)(210,0.100)(215,0.092)(220,0.073)(225,0.078)(230,0.086)(240,0.088)(250,0.080)(255,0.064)(260,0.088)(265,0.100)(270,0.092)(280,0.088)(290,0.088)(295,0.117)(300,0.078)(305,0.090)(310,0.105)(315,0.082)(320,0.088)(325,0.100)(330,0.099)(335,0.084)(340,0.093)(350,0.084)(360,0.078)
(360,0.115)(365,0.113)(370,0.131)(375,0.135)(380,0.115)(385,0.146)(390,0.115)(395,0.195)(400,0.170)(405,0.180)(410,0.124)(415,0.091)(420,0.087)(425,0.118)(430,0.115)(435,0.151)(440,0.060)(455,0.058)(460,0.089)(465,0.148)(470,0.160)(475,0.210)(480,0.146)(485,0.159)(490,0.190)(495,0.170)(500,0.184)(505,0.198)(510,0.157)(515,0.139)(520,0.146)(525,0.142)(530,0.132)(535,0.149)(540,0.127)
(540,0.245)(545,0.204)(550,0.241)(555,0.270)(560,0.297)(565,0.322)(570,0.498)(575,0.489)(580,0.504)(585,0.586)(590,0.664)(595,0.693)(600,0.738)(605,0.761)(610,0.829)(615,0.840)(620,0.886)(625,0.886)(630,0.882)(635,0.933)(640,0.938)(645,0.947)(650,0.955)(655,0.971)(660,0.977)(665,0.981)(670,0.989)(720,0.990)};
\addplot[fb=c7] fill between[of=M7s and M7d];

% under 10.5
\addplot[sl=c10, name path=M10s] coordinates {(180,0.255)(185,0.260)(190,0.282)(195,0.356)(200,0.405)(205,0.231)(210,0.239)(215,0.198)(220,0.156)(225,0.160)(230,0.171)(235,0.175)(240,0.194)(245,0.204)(250,0.198)(255,0.192)(260,0.225)(265,0.241)(270,0.212)(275,0.223)(280,0.216)(285,0.241)(290,0.233)(295,0.260)(300,0.210)(305,0.245)(310,0.234)(315,0.237)(320,0.230)(325,0.248)(330,0.248)(335,0.231)(340,0.260)(345,0.260)(350,0.260)(355,0.248)(360,0.234)
(360,0.377)(365,0.373)(370,0.410)(375,0.412)(380,0.393)(385,0.412)(390,0.411)(395,0.514)(400,0.507)(405,0.514)(410,0.382)(415,0.293)(420,0.299)(425,0.363)(430,0.375)(435,0.438)(440,0.268)(445,0.294)(450,0.196)(455,0.225)(460,0.289)(465,0.419)(470,0.424)(475,0.484)(480,0.442)(485,0.428)(490,0.467)(495,0.506)(500,0.504)(505,0.548)(510,0.488)(515,0.485)(520,0.461)(525,0.456)(530,0.463)(535,0.432)(540,0.399)
(540,0.695)(545,0.595)(550,0.692)(555,0.715)(560,0.765)(565,0.767)(570,0.922)(575,0.944)(580,0.948)(585,0.988)(590,0.998)(720,0.998)};
\addplot[dl=c10, name path=M10d] coordinates {(180,0.233)(185,0.237)(190,0.257)(195,0.331)(200,0.366)(205,0.215)(210,0.220)(215,0.183)(220,0.142)(225,0.146)(230,0.155)(235,0.160)(240,0.179)(245,0.185)(250,0.182)(255,0.177)(260,0.206)(265,0.220)(270,0.196)(275,0.204)(280,0.198)(285,0.220)(290,0.212)(295,0.237)(300,0.192)(305,0.225)(310,0.215)(315,0.216)(320,0.210)(325,0.226)(330,0.226)(335,0.212)(340,0.237)(345,0.237)(350,0.237)(355,0.229)(360,0.215)
(360,0.344)(365,0.340)(370,0.371)(375,0.374)(380,0.358)(385,0.374)(390,0.374)(395,0.467)(400,0.461)(405,0.467)(410,0.348)(415,0.266)(420,0.274)(425,0.329)(430,0.341)(435,0.397)(440,0.249)(445,0.270)(450,0.179)(455,0.206)(460,0.262)(465,0.382)(470,0.387)(475,0.438)(480,0.401)(485,0.389)(490,0.426)(495,0.459)(500,0.457)(505,0.498)(510,0.445)(515,0.442)(520,0.419)(525,0.415)(530,0.420)(535,0.393)(540,0.363)
(540,0.636)(545,0.544)(550,0.629)(555,0.652)(560,0.695)(565,0.697)(570,0.837)(575,0.858)(580,0.862)(585,0.905)(590,0.932)(595,0.955)(600,0.947)(605,0.969)(610,0.979)(615,0.983)(620,0.990)(720,0.990)};
\addplot[fb=c10] fill between[of=M10s and M10d];

% under 13.5
\addplot[sl=c13, name path=M13s] coordinates {(180,0.504)(185,0.498)(190,0.547)(195,0.615)(200,0.652)(205,0.426)(210,0.415)(215,0.415)(220,0.303)(225,0.333)(230,0.311)(235,0.325)(240,0.393)(245,0.381)(250,0.387)(255,0.387)(260,0.440)(265,0.438)(270,0.430)(275,0.428)(280,0.445)(285,0.465)(290,0.441)(295,0.484)(300,0.456)(305,0.453)(310,0.474)(315,0.465)(320,0.481)(325,0.453)(330,0.484)(335,0.445)(340,0.525)(345,0.514)(350,0.496)(355,0.465)(360,0.498)
(360,0.678)(365,0.711)(370,0.718)(375,0.710)(380,0.714)(385,0.729)(390,0.714)(395,0.810)(400,0.823)(405,0.841)(410,0.675)(415,0.637)(420,0.599)(425,0.662)(430,0.700)(435,0.761)(440,0.564)(445,0.586)(450,0.486)(455,0.522)(460,0.585)(465,0.708)(470,0.718)(475,0.778)(480,0.726)(485,0.726)(490,0.755)(495,0.778)(500,0.800)(505,0.868)(510,0.826)(515,0.822)(520,0.798)(525,0.803)(530,0.780)(535,0.774)(540,0.753)
(540,0.975)(545,0.938)(550,0.977)(555,0.996)(720,0.998)};
\addplot[dl=c13, name path=M13d] coordinates {(180,0.459)(185,0.455)(190,0.500)(195,0.562)(200,0.595)(205,0.391)(210,0.379)(215,0.377)(220,0.278)(225,0.303)(230,0.282)(235,0.297)(240,0.356)(245,0.345)(250,0.350)(255,0.352)(260,0.401)(265,0.399)(270,0.391)(275,0.389)(280,0.404)(285,0.422)(290,0.401)(295,0.440)(300,0.415)(305,0.412)(310,0.430)(315,0.424)(320,0.438)(325,0.414)(330,0.440)(335,0.407)(340,0.479)(345,0.471)(350,0.455)(355,0.422)(360,0.455)
(360,0.619)(365,0.646)(370,0.652)(375,0.644)(380,0.648)(385,0.662)(390,0.650)(395,0.738)(400,0.751)(405,0.763)(410,0.615)(415,0.582)(420,0.549)(425,0.603)(430,0.640)(435,0.689)(440,0.516)(445,0.533)(450,0.447)(455,0.479)(460,0.533)(465,0.644)(470,0.652)(475,0.706)(480,0.662)(485,0.662)(490,0.685)(495,0.706)(500,0.726)(505,0.788)(510,0.751)(515,0.747)(520,0.726)(525,0.730)(530,0.711)(535,0.706)(540,0.695)
(540,0.891)(545,0.854)(550,0.895)(555,0.911)(560,0.932)(565,0.936)(570,0.973)(575,0.977)(580,0.979)(585,0.989)(720,0.993)};
\addplot[fb=c13] fill between[of=M13s and M13d];

% under 16.5
\addplot[sl=c16, name path=M16s] coordinates {(180,0.738)(185,0.751)(190,0.792)(195,0.807)(200,0.870)(205,0.678)(210,0.656)(215,0.669)(220,0.511)(225,0.541)(230,0.533)(235,0.572)(240,0.627)(245,0.599)(250,0.607)(255,0.623)(260,0.663)(265,0.665)(270,0.675)(275,0.664)(280,0.664)(285,0.690)(290,0.688)(295,0.704)(300,0.697)(305,0.696)(310,0.744)(315,0.710)(320,0.706)(325,0.710)(330,0.730)(335,0.701)(340,0.744)(345,0.741)(350,0.759)(355,0.734)(360,0.722)
(360,0.905)(365,0.924)(370,0.940)(375,0.936)(380,0.930)(385,0.950)(390,0.965)(395,0.988)(400,0.979)(405,0.998)(410,0.899)(415,0.874)(420,0.854)(425,0.899)(430,0.922)(435,0.961)(440,0.831)(445,0.843)(450,0.766)(455,0.807)(460,0.850)(465,0.911)(470,0.932)(475,0.942)(480,0.917)(485,0.932)(490,0.944)(495,0.975)(500,0.985)(505,0.999)(510,0.999)(515,0.998)(520,0.988)(525,0.993)(530,0.985)(535,0.981)(540,0.956)
(540,0.998)(720,0.998)};
\addplot[dl=c16, name path=M16d] coordinates {(180,0.673)(185,0.681)(190,0.720)(195,0.734)(200,0.788)(205,0.618)(210,0.596)(215,0.607)(220,0.467)(225,0.492)(230,0.484)(235,0.516)(240,0.572)(245,0.547)(250,0.555)(255,0.568)(260,0.601)(265,0.603)(270,0.613)(275,0.604)(280,0.603)(285,0.626)(290,0.626)(295,0.641)(300,0.636)(305,0.634)(310,0.677)(315,0.648)(320,0.644)(325,0.646)(330,0.664)(335,0.638)(340,0.677)(345,0.674)(350,0.689)(355,0.669)(360,0.659)
(360,0.825)(365,0.841)(370,0.854)(375,0.850)(380,0.847)(385,0.866)(390,0.878)(395,0.899)(400,0.892)(405,0.909)(410,0.818)(415,0.796)(420,0.777)(425,0.817)(430,0.839)(435,0.874)(440,0.759)(445,0.767)(450,0.697)(455,0.734)(460,0.771)(465,0.829)(470,0.848)(475,0.854)(480,0.835)(485,0.847)(490,0.858)(495,0.886)(500,0.897)(505,0.930)(510,0.921)(515,0.918)(520,0.899)(525,0.905)(530,0.895)(535,0.891)(540,0.870)
(540,0.975)(545,0.971)(550,0.985)(560,0.990)(720,0.993)};
\addplot[fb=c16] fill between[of=M16s and M16d];

% under 19.5
\addplot[sl=c19, name path=M19s] coordinates {(180,0.917)(185,0.907)(190,0.944)(195,0.971)(200,0.993)(205,0.864)(210,0.839)(215,0.856)(220,0.715)(225,0.751)(230,0.732)(235,0.779)(240,0.826)(245,0.806)(250,0.817)(255,0.837)(260,0.851)(265,0.847)(270,0.869)(275,0.854)(280,0.854)(285,0.873)(290,0.866)(295,0.895)(300,0.900)(305,0.886)(310,0.910)(315,0.892)(320,0.899)(325,0.905)(330,0.897)(335,0.892)(340,0.905)(345,0.897)(350,0.926)(355,0.895)(360,0.925)
(360,0.998)(440,0.996)(445,0.985)(450,0.947)(455,0.985)(460,0.998)(720,0.998)};
\addplot[dl=c19, name path=M19d] coordinates {(180,0.835)(185,0.826)(190,0.859)(195,0.881)(200,0.900)(205,0.788)(210,0.763)(215,0.780)(220,0.652)(225,0.683)(230,0.664)(235,0.707)(240,0.747)(245,0.734)(250,0.743)(255,0.761)(260,0.769)(265,0.769)(270,0.788)(275,0.777)(280,0.777)(285,0.792)(290,0.785)(295,0.812)(300,0.817)(305,0.807)(310,0.825)(315,0.811)(320,0.818)(325,0.821)(330,0.817)(335,0.810)(340,0.823)(345,0.817)(350,0.839)(355,0.812)(360,0.841)
(360,0.947)(365,0.948)(370,0.950)(375,0.956)(380,0.961)(385,0.966)(390,0.961)(395,0.977)(400,0.975)(405,0.973)(410,0.925)(415,0.915)(420,0.903)(425,0.923)(430,0.940)(435,0.964)(440,0.911)(445,0.899)(450,0.862)(455,0.891)(460,0.915)(465,0.936)(470,0.936)(475,0.940)(480,0.938)(485,0.940)(490,0.947)(495,0.969)(500,0.975)(505,0.993)(510,0.988)(515,0.989)(520,0.983)(525,0.982)(530,0.975)(535,0.978)(540,0.965)
(540,0.990)(720,0.995)};
\addplot[fb=c19] fill between[of=M19s and M19d];

% under 22.5
\addplot[sl=c22, name path=M22s] coordinates {(180,0.999)(195,0.999)(200,0.993)(205,0.989)(210,0.970)(215,0.979)(220,0.882)(225,0.918)(230,0.911)(235,0.930)(240,0.948)(245,0.954)(250,0.954)(255,0.954)(260,0.973)(265,0.995)(270,0.985)(275,0.981)(280,0.987)(285,0.995)(290,0.979)(295,0.998)(720,0.999)};
\addplot[dl=c22, name path=M22d] coordinates {(180,0.936)(185,0.919)(190,0.944)(195,0.948)(200,0.950)(205,0.903)(210,0.884)(215,0.895)(220,0.804)(225,0.835)(230,0.829)(235,0.845)(240,0.864)(245,0.868)(250,0.868)(255,0.870)(260,0.884)(265,0.907)(270,0.895)(275,0.891)(280,0.895)(285,0.907)(290,0.891)(295,0.907)(300,0.911)(305,0.911)(310,0.940)(315,0.916)(320,0.915)(325,0.911)(330,0.907)(335,0.911)(340,0.915)(345,0.928)(350,0.925)(355,0.903)(360,0.924)
(360,0.985)(400,0.988)(410,0.970)(420,0.965)(430,0.975)(440,0.980)(450,0.970)(460,0.982)(480,0.988)(500,0.990)(540,0.990)(540,0.995)(720,0.995)};
\addplot[fb=c22] fill between[of=M22s and M22d];

% under 25.5
\addplot[sl=c25, name path=M25s] coordinates {(180,0.998)(215,0.998)(220,0.993)(225,0.998)(720,0.998)};
\addplot[dl=c25, name path=M25d] coordinates {(180,0.973)(190,0.973)(195,0.985)(200,0.990)(205,0.965)(210,0.952)(215,0.938)(220,0.907)(225,0.919)(230,0.924)(235,0.940)(240,0.947)(250,0.950)(260,0.944)(270,0.947)(280,0.952)(290,0.955)(300,0.961)(310,0.977)(320,0.966)(330,0.961)(340,0.965)(350,0.969)(360,0.985)(360,0.990)(540,0.990)(540,0.995)(720,0.995)};
\addplot[fb=c25] fill between[of=M25s and M25d];

% under 28.5
\addplot[sl=c28, opacity=0.55, name path=M28s] coordinates {(180,1.0)(720,1.0)};
\addplot[dl=c28, name path=M28d] coordinates {(180,0.985)(200,0.990)(210,0.975)(220,0.960)(240,0.970)(260,0.975)(300,0.980)(360,0.985)(360,0.992)(720,0.996)};
\addplot[fb=c28] fill between[of=M28s and M28d];

\problegend
\end{axis}

% ================= BOTTOM PANEL =================
\begin{axis}[base, at={(44.5pt,-531.2pt)}, anchor=north west, height=149.6pt,
  ymin=-1.2, ymax=25.05, ytick={0,5,10,15,20},
  xlabel={Fight time (seconds)},
  xlabel style={font=\fontsize{10}{12}\selectfont, at={(axis description cs:0.5,0)}, anchor=base, yshift=-25.5pt},
  ylabel={Count},
  ylabel style={font=\fontsize{8}{9}\selectfont, at={(axis description cs:-0.0272,0.5)}, anchor=center},
  legend style={at={(0,1)}, anchor=north west, xshift=3.5pt, yshift=-3.5pt,
    font=\fontsize{7}{8}\selectfont, draw=gray!40, fill=white, fill opacity=0.8, text opacity=1,
    rounded corners=2pt, nodes={inner sep=1.5pt}, row sep=1.2pt},
  legend cell align=left,
  legend image code/.code={\draw[#1] (0pt,0pt) -- (15pt,0pt);}]
\addplot[forget plot, rgray, line width=0.6pt, dash pattern=on 0.8pt off 1.3pt] coordinates {(180,-1.2)(180,25.05)};
\addplot[forget plot, rgray, line width=0.6pt, dash pattern=on 0.8pt off 1.3pt] coordinates {(360,-1.2)(360,25.05)};
\addplot[forget plot, rgray, line width=0.6pt, dash pattern=on 0.8pt off 1.3pt] coordinates {(540,-1.2)(540,25.05)};
\node[anchor=west, text=rgray, font=\fontsize{7}{8}\selectfont, inner sep=0pt] at (axis cs:182,23.6) {R2};
\node[anchor=west, text=rgray, font=\fontsize{7}{8}\selectfont, inner sep=0pt] at (axis cs:362,23.6) {R3};
\node[anchor=west, text=rgray, font=\fontsize{7}{8}\selectfont, inner sep=0pt] at (axis cs:542,23.6) {R4};

\addplot[forget plot, name path=RU, draw=cR, draw opacity=0.15, line width=0.6pt] table[x=t, y=RU]{\cnt};
\addplot[forget plot, name path=RL, draw=cR, draw opacity=0.15, line width=0.6pt] table[x=t, y=RL]{\cnt};
\addplot[forget plot, fill=cR, fill opacity=0.14, draw=none] fill between[of=RU and RL];
\addplot[forget plot, name path=BU, draw=cB, draw opacity=0.15, line width=0.6pt] table[x=t, y=BU]{\cnt};
\addplot[forget plot, name path=BL, draw=cB, draw opacity=0.15, line width=0.6pt] table[x=t, y=BL]{\cnt};
\addplot[forget plot, fill=cB, fill opacity=0.13, draw=none] fill between[of=BU and BL];

\addplot[cR, line width=1.5pt, opacity=0.75] coordinates {(180,0)(190,0)(195,1)(225,1)(230,2)(235,2)(240,3)(260,3)(265,4)(325,4)(330,6)(345,6)(350,7)(360,7)
(360,0)(390,0)(395,1)(405,1)(410,2)(415,2)(420,3)(425,4)(430,4)(435,5)(480,5)(485,7)(495,7)(500,8)(505,8)(510,9)(525,9)(530,10)(535,11)(540,11)
(540,0)(560,0)(565,1)(585,1)(590,3)(595,3)(605,5)(615,5)(620,6)(650,6)(655,8)(670,8)(675,9)(680,11)(685,11)(690,13)(695,13)(700,14)(715,14)(720,15)};
\addlegendentry{Truth SEBASTIAN FUNDORA: 15}
\addplot[cB, line width=1.5pt, opacity=0.75] coordinates {(180,0)(200,0)(205,1)(215,1)(220,3)(275,3)(280,4)(355,4)(360,5)
(360,0)(405,0)(410,1)(415,2)(435,2)(440,4)(445,4)(450,5)(505,5)(510,6)(515,7)(540,7)
(540,0)(620,0)(625,1)(645,1)(650,2)(690,2)(695,3)(700,3)(705,4)(720,4)};
\addlegendentry{Truth KEITH THURMAN: 4}
\addplot[cR, line width=1.5pt, opacity=0.6, dash pattern=on 1.5pt off 2.4pt] table[x=t, y=PR]{\cnt};
\addlegendentry{Predicted SEBASTIAN FUNDORA: 10.0}
\addplot[cB, line width=1.5pt, opacity=0.6, dash pattern=on 1.5pt off 2.4pt] table[x=t, y=PB]{\cnt};
\addlegendentry{Predicted KEITH THURMAN: 9.6}
\end{axis}

\pgfresetboundingbox
\useasboundingbox (0,0) rectangle (1008pt,-720pt);
\end{tikzpicture}
\end{document}
